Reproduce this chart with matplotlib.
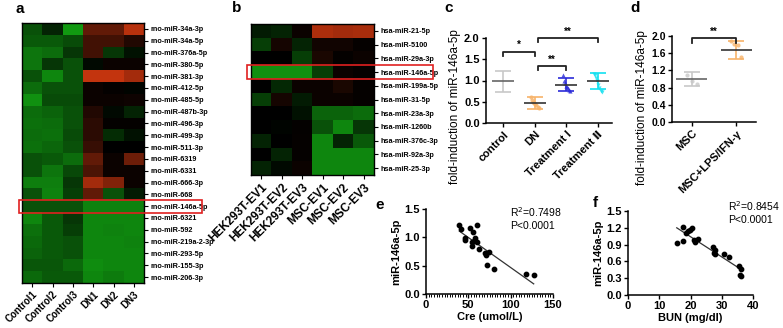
import numpy as np
import matplotlib
matplotlib.use('Agg')
import matplotlib.pyplot as plt
from matplotlib.colors import LinearSegmentedColormap
from matplotlib.patches import Rectangle
from matplotlib.ticker import MultipleLocator

plt.rcParams['font.family'] = ['Liberation Sans', 'DejaVu Sans']

# ---- data ----
rows_a = ['rno-miR-34a-3p', 'rno-miR-34a-5p', 'rno-miR-376a-5p', 'rno-miR-380-5p',
          'rno-miR-381-3p', 'rno-miR-412-5p', 'rno-miR-485-5p', 'rno-miR-487b-3p',
          'rno-miR-496-3p', 'rno-miR-499-3p', 'rno-miR-511-3p', 'rno-miR-6319',
          'rno-miR-6331', 'rno-miR-666-3p', 'rno-miR-668', 'rno-miR-146a-5p',
          'rno-miR-6321', 'rno-miR-592', 'rno-miR-219a-2-3p', 'rno-miR-293-5p',
          'rno-miR-155-3p', 'rno-miR-206-3p']
cols_a = ['Control1', 'Control2', 'Control3', 'DN1', 'DN2', 'DN3']
heat_a = [
    [-0.45, -0.2, -0.85, 0.45, 0.45, 0.85],
    [-0.5, -0.5, -0.42, 0.3, 0.3, 0.15],
    [-0.65, -0.6, -0.3, 0.3, -0.3, -0.1],
    [-0.65, -0.3, -0.45, -0.05, 0.05, 0.05],
    [-0.45, -0.75, -0.45, 0.9, 0.9, 0.75],
    [-0.6, -0.45, -0.45, 0.05, 0.02, -0.03],
    [-0.8, -0.42, -0.42, 0.05, 0.05, 0.07],
    [-0.6, -0.55, -0.45, 0.15, -0.05, -0.2],
    [-0.62, -0.6, -0.45, 0.2, 0.02, 0.02],
    [-0.6, -0.62, -0.42, 0.2, -0.25, -0.1],
    [-0.62, -0.57, -0.45, 0.25, 0.0, 0.0],
    [-0.45, -0.5, -0.6, 0.45, 0.05, 0.5],
    [-0.45, -0.65, -0.4, 0.35, 0.05, 0.05],
    [-0.7, -0.7, -0.3, 0.75, 0.6, 0.05],
    [-0.45, -0.72, -0.35, 0.45, -0.45, -0.15],
    [-0.45, -0.45, -0.45, -0.72, -0.72, -0.72],
    [-0.75, -0.5, -0.3, -0.75, -0.75, -0.75],
    [-0.62, -0.5, -0.35, -0.75, -0.72, -0.75],
    [-0.58, -0.5, -0.45, -0.75, -0.75, -0.72],
    [-0.55, -0.5, -0.45, -0.75, -0.75, -0.75],
    [-0.48, -0.48, -0.58, -0.78, -0.75, -0.75],
    [-0.58, -0.5, -0.5, -0.75, -0.68, -0.75],
]

rows_b = ['hsa-miR-21-5p', 'hsa-miR-5100', 'hsa-miR-29a-3p', 'hsa-miR-146a-5p',
          'hsa-miR-199a-5p', 'hsa-miR-31-5p', 'hsa-miR-23a-3p', 'hsa-miR-1260b',
          'hsa-miR-376c-3p', 'hsa-miR-92a-3p', 'hsa-miR-25-3p']
cols_b = ['HEK293T-EV1', 'HEK293T-EV2', 'HEK293T-EV3', 'MSC-EV1', 'MSC-EV2', 'MSC-EV3']
heat_b = [
    [-0.15, -0.2, 0.05, 0.8, 0.75, 0.78],
    [-0.35, 0.1, -0.2, 0.08, 0.08, 0.03],
    [0.0, 0.0, -0.35, 0.12, 0.02, 0.05],
    [-0.8, -0.8, -0.8, -0.35, 0.05, 0.03],
    [0.0, -0.22, 0.05, 0.05, 0.12, 0.03],
    [-0.35, 0.1, -0.15, 0.05, 0.05, 0.03],
    [0.0, 0.0, -0.1, -0.55, -0.55, -0.6],
    [0.0, -0.03, 0.02, -0.45, -0.75, -0.3],
    [-0.2, 0.0, 0.03, -0.75, -0.2, -0.5],
    [0.0, -0.2, 0.03, -0.75, -0.75, -0.75],
    [-0.2, -0.05, 0.05, -0.75, -0.75, -0.75],
]

# panel c
groups_c = ['control', 'DN', 'Treatment I', 'Treatment \u2161']
mean_c = [0.98, 0.47, 0.90, 0.98]
sd_c = [0.24, 0.15, 0.15, 0.19]
colors_c = ['#c8c8c8', '#f7b36a', '#2b2bd8', '#12e0f0']
markers_c = ['o', 'o', '^', 'v']
points_c = [
    [],
    [0.62, 0.55, 0.50, 0.48, 0.45, 0.42, 0.38, 0.35],
    [1.12, 1.00, 0.95, 0.88, 0.85, 0.82, 0.78, 0.75],
    [1.15, 1.12, 1.05, 0.98, 0.90, 0.82, 0.75, 0.72],
]
sig_c = [(0, 1, 1.68, '*'), (1, 2, 1.35, '**'), (1, 3, 2.0, '**')]

# panel d
groups_d = ['MSC', 'MSC+LPS/IFN-\u03b3']
mean_d = [1.00, 1.68]
sd_d = [0.16, 0.21]
colors_d = ['#c8c8c8', '#f7b36a']
points_d = [[1.10, 0.95, 0.88], [1.88, 1.82, 1.78, 1.52]]

# panel e
cre_x = [39.3, 41.6, 45.9, 45.9, 51.8, 55.8, 60.5, 58.1, 54.9, 53.8, 60.8,
         62.4, 69.1, 70.7, 74.6, 72.3, 80.9, 117.8, 127.2, 56.5]
cre_y = [1.22, 1.15, 0.98, 0.95, 1.16, 1.09, 1.21, 0.98, 0.92, 0.85, 0.92,
         0.79, 0.73, 0.68, 0.74, 0.51, 0.44, 0.35, 0.34, 0.94]
cre_fit = (-0.0106, 1.527)
cre_range = (39.3, 127.2)

# panel f
bun_x = [15.6, 17.6, 17.5, 18.7, 19.2, 19.8, 20.4, 21.1, 21.5, 22.5,
         27.1, 27.9, 27.5, 27.9, 30.6, 32.3, 35.5, 36.1, 35.8, 36.3]
bun_y = [0.92, 1.22, 0.97, 1.10, 1.15, 1.16, 1.20, 0.99, 0.94, 1.00,
         0.85, 0.80, 0.75, 0.74, 0.73, 0.68, 0.52, 0.46, 0.35, 0.34]
bun_fit = (-0.0361, 1.763)
bun_range = (15.6, 36.1)

W, H = 783, 328
fig = plt.figure(figsize=(W / 100, H / 100), dpi=100)


def ax_px(x0, y0, x1, y1):
    return fig.add_axes([x0 / W, 1 - y1 / H, (x1 - x0) / W, (y1 - y0) / H])


cmap = LinearSegmentedColormap.from_list('gr', ['#14b414', '#000000', '#d83a10'])


def heatmap(ax, data, rows, cols, ylab_size, xlab_size):
    ax.imshow(np.array(data), cmap=cmap, vmin=-1, vmax=1, aspect='auto',
              interpolation='nearest')
    ax.yaxis.tick_right()
    ax.set_yticks(range(len(rows)))
    ax.set_yticklabels(rows, fontsize=ylab_size, fontweight='bold')
    ax.set_xticks(range(len(cols)))
    ax.set_xticklabels(cols, fontsize=xlab_size, fontweight='bold', rotation=45,
                       ha='right', rotation_mode='anchor')
    ax.tick_params(length=3, width=0.8, pad=1.5)
    for s in ax.spines.values():
        s.set_linewidth(1.0)


ax_a = ax_px(22, 23, 144, 283)
heatmap(ax_a, heat_a, rows_a, cols_a, 5.2, 7)
ax_b = ax_px(251, 24, 374, 175)
heatmap(ax_b, heat_b, rows_b, cols_b, 5.2, 8.5)

# red boxes around miR-146a-5p rows
fig.add_artist(Rectangle((19 / W, 1 - 213 / H), (202 - 19) / W, 13 / H,
                         transform=fig.transFigure, fill=False, ec='#e02020', lw=1.2))
fig.add_artist(Rectangle((247 / W, 1 - 79 / H), (433 - 247) / W, 14 / H,
                         transform=fig.transFigure, fill=False, ec='#e02020', lw=1.2))


def style_axes(ax):
    ax.spines['top'].set_visible(False)
    ax.spines['right'].set_visible(False)
    for s in ax.spines.values():
        s.set_linewidth(1.1)
    ax.tick_params(length=3, width=1.0, pad=1.5, labelsize=8)
    for lab in ax.get_xticklabels() + ax.get_yticklabels():
        lab.set_fontweight('bold')


def dot_plot(ax, means, sds, colors, points, markers):
    for i, (m, s, c) in enumerate(zip(means, sds, colors)):
        ax.errorbar(i, m, yerr=s, fmt='none', ecolor=c, elinewidth=1.2,
                    capsize=6, capthick=1.2, zorder=2)
        ax.hlines(m, i - 0.35, i + 0.35, color='#333333' if i else '#666666',
                  lw=1.2, zorder=3)
        pts = points[i]
        if pts:
            offs = np.linspace(-0.12, 0.12, len(pts))
            ax.scatter(i + offs, pts, s=9, color=c, marker=markers[i], zorder=2,
                       alpha=0.8, linewidths=0)


def sig_bar(ax, x0, x1, y, txt, drop):
    ax.plot([x0, x0, x1, x1], [y - drop, y, y, y - drop], color='#222222',
            lw=1.3, clip_on=False)
    ax.text((x0 + x1) / 2, y + drop * 0.3, txt, ha='center', va='bottom',
            fontsize=7, fontweight='bold')


# panel c
ax_c = ax_px(486, 38, 612, 123)
dot_plot(ax_c, mean_c, sd_c, colors_c, points_c, markers_c)
for x0, x1, y, t in sig_c:
    sig_bar(ax_c, x0 + (0.1 if x0 else 0), x1, y, t, 0.1)
ax_c.set_xlim(-0.55, 3.45)
ax_c.set_ylim(0, 2.0)
ax_c.set_yticks([0, 0.5, 1.0, 1.5, 2.0])
ax_c.set_yticklabels(['0.0', '0.5', '1.0', '1.5', '2.0'])
ax_c.set_xticks(range(len(groups_c)))
ax_c.set_xticklabels(groups_c, rotation=45, ha='right', rotation_mode='anchor')
ax_c.set_ylabel('fold-induction of miR-146a-5p', fontsize=8.5)
ax_c.yaxis.set_label_coords(-0.2, 0.19)
style_axes(ax_c)

# panel d
ax_d = ax_px(672, 36, 756, 122)
dot_plot(ax_d, mean_d, sd_d, colors_d, points_d, ['o', 'o'])
sig_bar(ax_d, 0, 1, 1.95, '**', 0.12)
ax_d.set_xlim(-0.45, 1.45)
ax_d.set_ylim(0, 2.0)
ax_d.set_yticks([0, 0.4, 0.8, 1.2, 1.6, 2.0])
ax_d.set_yticklabels(['0.0', '0.4', '0.8', '1.2', '1.6', '2.0'])
ax_d.set_xticks(range(len(groups_d)))
ax_d.set_xticklabels(groups_d, rotation=45, ha='right', rotation_mode='anchor')
ax_d.set_ylabel('fold-induction of miR-146a-5p', fontsize=8.5)
ax_d.yaxis.set_label_coords(-0.29, 0.17)
style_axes(ax_d)
ax_d.tick_params(axis='y', labelsize=7.5)

# panel e
ax_e = ax_px(426, 209, 553, 294)
ax_e.scatter(cre_x, cre_y, s=10, color='black', zorder=3)
xs = np.array(cre_range)
ax_e.plot(xs, cre_fit[0] * xs + cre_fit[1], color='#333333', lw=0.9)
ax_e.set_xlim(0, 150)
ax_e.set_ylim(0, 1.5)
ax_e.set_xticks([0, 50, 100, 150])
ax_e.set_yticks([0, 0.5, 1.0, 1.5])
ax_e.set_yticklabels(['0.0', '0.5', '1.0', '1.5'])
ax_e.xaxis.set_minor_locator(MultipleLocator(50 / 16))
ax_e.tick_params(axis='x', which='minor', length=2, width=0.7)
ax_e.set_xlabel('Cre (umol/L)', fontsize=8, fontweight='bold', labelpad=1)
ax_e.set_ylabel('miR-146a-5p', fontsize=8, fontweight='bold', labelpad=2)
style_axes(ax_e)
ax_e.text(0.66, 1.04, 'R$^2$=0.7498\nP<0.0001', transform=ax_e.transAxes,
          fontsize=7.5, va='top', linespacing=1.2)

# panel f
ax_f = ax_px(628, 211, 753, 295)
ax_f.scatter(bun_x, bun_y, s=10, color='black', zorder=3)
xs = np.array(bun_range)
ax_f.plot(xs, bun_fit[0] * xs + bun_fit[1], color='#333333', lw=0.9)
ax_f.set_xlim(0, 40)
ax_f.set_ylim(0, 1.5)
ax_f.set_xticks([0, 10, 20, 30, 40])
ax_f.set_yticks([0, 0.3, 0.6, 0.9, 1.2, 1.5])
ax_f.set_yticklabels(['0.0', '0.3', '0.6', '0.9', '1.2', '1.5'])
ax_f.set_xlabel('BUN (mg/dl)', fontsize=8, fontweight='bold', labelpad=1)
ax_f.set_ylabel('miR-146a-5p', fontsize=8, fontweight='bold', labelpad=2)
style_axes(ax_f)
ax_f.text(0.8, 1.14, 'R$^2$=0.8454\nP<0.0001', transform=ax_f.transAxes,
          fontsize=7.5, va='top', linespacing=1.2)

# panel letters
for lbl, x, y in [('a', 20, 9), ('b', 237, 8), ('c', 449, 8), ('d', 635, 8),
                  ('e', 380, 205), ('f', 595, 203)]:
    fig.text(x / W, 1 - y / H, lbl, fontsize=11, fontweight='bold',
             ha='center', va='center')

fig.savefig('out.png', dpi=100)
